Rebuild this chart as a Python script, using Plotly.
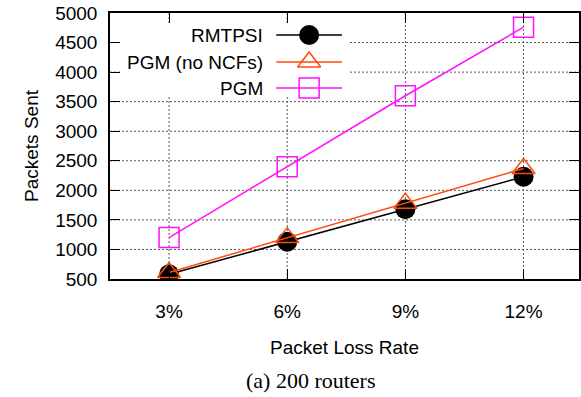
import plotly.graph_objects as go

categories = ["3%", "6%", "9%", "12%"]
rmtpsi = [580, 1130, 1680, 2230]
pgm_no_ncf = [610, 1200, 1780, 2370]
pgm = [1200, 2400, 3600, 4760]
series_names = ["RMTPSI", "PGM (no NCFs)", "PGM"]
y_ticks = [500, 1000, 1500, 2000, 2500, 3000, 3500, 4000, 4500, 5000]

BLACK = "#000000"
ORANGE = "#ff4a0a"
MAGENTA = "#ff10ff"
FONT = "Liberation Sans"
GRID = "#555555"

W, H = 581, 397
ML, MR, MT, MB = 110, 0, 13, 118
PW, PH = W - ML - MR, H - MT - MB
Y0, Y1 = 500, 5000

spacing = 118.67
x_left = -59.3 / spacing
x_right = x_left + PW / spacing

fig = go.Figure()
xs = list(range(len(categories)))


def px_x(p):
    return x_left + p / spacing


def px_y(p):
    return Y0 + p * (Y1 - Y0) / PH


# dotted grid drawn as shapes beneath the traces
for yv in y_ticks[1:-1]:
    fig.add_shape(type="line", xref="x", yref="y", x0=x_left, x1=x_right, y0=yv, y1=yv,
                  line=dict(color=GRID, width=1, dash="2px,2px"), layer="below")
for xv in xs:
    fig.add_shape(type="line", xref="x", yref="y", x0=xv, x1=xv, y0=Y0, y1=Y1,
                  line=dict(color=GRID, width=1, dash="2px,2px"), layer="below")

# white legend box hiding the grid
fig.add_shape(type="rect", xref="x", yref="y", x0=px_x(12), x1=px_x(240),
              y0=px_y(PH - 84), y1=px_y(PH - 12),
              fillcolor="white", line=dict(width=0), layer="below")

fig.add_trace(go.Scatter(
    x=xs, y=rmtpsi, mode="lines+markers", name=series_names[0],
    line=dict(color=BLACK, width=1.5),
    marker=dict(symbol="circle", size=20, color=BLACK, line=dict(width=0)),
    showlegend=False))
fig.add_trace(go.Scatter(
    x=xs, y=pgm_no_ncf, mode="lines+markers", name=series_names[1],
    line=dict(color=ORANGE, width=1.5),
    marker=dict(symbol="triangle-up-open", size=20, color=ORANGE, line=dict(width=1.5)),
    showlegend=False))
fig.add_trace(go.Scatter(
    x=xs, y=pgm, mode="lines+markers", name=series_names[2],
    line=dict(color=MAGENTA, width=1.5),
    marker=dict(symbol="square-open", size=20, color=MAGENTA, line=dict(width=1.5)),
    showlegend=False))

# custom legend (text left, key on right)
rows_y = [PH - 22, PH - 49, PH - 75]
styles = [
    (BLACK, dict(symbol="circle", size=20, color=BLACK, line=dict(width=0))),
    (ORANGE, dict(symbol="triangle-up-open", size=20, color=ORANGE, line=dict(width=1.5))),
    (MAGENTA, dict(symbol="square-open", size=20, color=MAGENTA, line=dict(width=1.5))),
]
for name, yy, (col, mk) in zip(series_names, rows_y, styles):
    fig.add_trace(go.Scatter(x=[px_x(167), px_x(233)], y=[px_y(yy), px_y(yy)], mode="lines",
                             line=dict(color=col, width=1.5), showlegend=False, hoverinfo="skip"))
    fig.add_trace(go.Scatter(x=[px_x(200)], y=[px_y(yy)], mode="markers",
                             marker=mk, showlegend=False, hoverinfo="skip"))
    fig.add_annotation(x=px_x(156), y=px_y(yy), xref="x", yref="y", text=name, showarrow=False,
                       xanchor="right", yanchor="middle", font=dict(family=FONT, size=19, color="black"))

fig.add_annotation(x=(312 - ML) / PW, y=-(380 - MT - PH) / PH, xref="paper", yref="paper",
                   text="(a) 200 routers", showarrow=False, xanchor="center", yanchor="middle",
                   font=dict(family="Liberation Serif", size=22, color="black"))

fig.update_layout(
    width=W, height=H,
    margin=dict(l=ML, r=MR, t=MT, b=MB),
    paper_bgcolor="white", plot_bgcolor="white",
    font=dict(family=FONT, size=19, color="black"),
    xaxis=dict(range=[x_left, x_right], tickmode="array", tickvals=xs, ticktext=categories,
               showgrid=False,
               ticks="inside", ticklen=10, tickcolor="black", tickwidth=1,
               showline=True, linecolor="black", linewidth=1.5, mirror="ticks",
               zeroline=False, ticklabelstandoff=14,
               title=dict(text="Packet Loss Rate", standoff=20, font=dict(size=19))),
    yaxis=dict(range=[Y0, Y1], tickmode="array", tickvals=y_ticks,
               showgrid=False,
               ticks="inside", ticklen=10, tickcolor="black", tickwidth=1,
               showline=True, linecolor="black", linewidth=1.5, mirror="ticks",
               zeroline=False, ticklabelstandoff=7,
               title=dict(text="Packets Sent", standoff=12, font=dict(size=19))),
)

fig.write_html("out.html")
